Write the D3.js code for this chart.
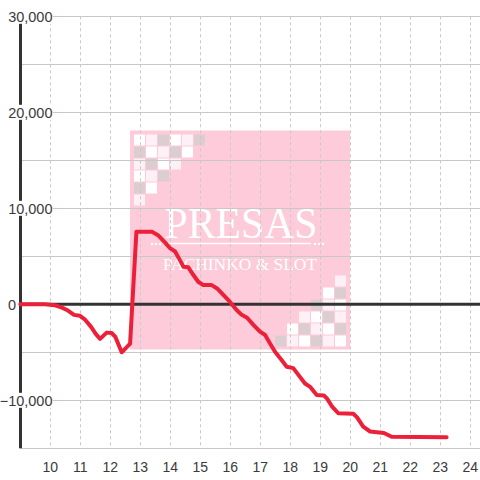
<!DOCTYPE html>
<html><head><meta charset="utf-8">
<script src="https://cdn.jsdelivr.net/npm/d3@7"></script>
<style>html,body{margin:0;padding:0;background:#fff;}svg{display:block;}</style>
</head><body>
<svg id="chart" width="480" height="480"></svg>
<script>
// Time of day (decimal hours) and cumulative balance
const hours = [9.0, 9.82, 10.16, 10.39, 10.59, 10.79, 10.99, 11.16, 11.36, 11.52, 11.66, 11.88, 12.05, 12.17, 12.38, 12.66,
  12.87, 13.39, 13.59, 13.82, 13.99, 14.16, 14.32, 14.44, 14.60, 14.77, 14.93, 15.10, 15.38, 15.56, 15.76, 15.99,
  16.21, 16.38, 16.56, 16.77, 16.99, 17.16, 17.32, 17.49, 17.71, 17.88, 18.10, 18.27, 18.49, 18.66, 18.88, 19.12,
  19.22, 19.38, 19.60, 20.10, 20.22, 20.43, 20.66, 21.12, 21.38, 23.21];
const balance = [0, 0, -100, -350, -650, -1100, -1200, -1600, -2350, -3100, -3600, -2950, -3000, -3400, -5000, -4100,
  7550, 7550, 7200, 6450, 5850, 5500, 4600, 3900, 3850, 3050, 2350, 2000, 2000, 1650, 1000, 250,
  -600, -1100, -1400, -2150, -2850, -3200, -4050, -4950, -5800, -6500, -6650, -7350, -8250, -8600, -9450, -9500,
  -9800, -10600, -11350, -11400, -11750, -12750, -13250, -13400, -13800, -13850];
const xTicks = [10, 11, 12, 13, 14, 15, 16, 17, 18, 19, 20, 21, 22, 23, 24];
const yLabelTicks = [30000, 20000, 10000, 0, -10000];
const yGridTicks = [30000, 25000, 20000, 15000, 10000, 5000, -5000, -10000, -15000];
const watermarkTitle = "PRESAS";
const watermarkSub = "PACHINKO & SLOT";
const checkTopLeft = ["WLGWLG", "GWLGW", "LGWL", "WLG", "GW", "L"];
const checkBottomRight = ["GLWGLW", "WGLWG", "LWGL", "GLW", "WG", "L"];

const W = 480, H = 480;
const svg = d3.select("#chart");
const x = d3.scaleLinear().domain([9, 24]).range([20.3, 470.3]);
const y = d3.scaleLinear().domain([-15000, 30000]).range([448.3, 16.3]);
const font = "'Liberation Sans', Arial, sans-serif";

// watermark
const wm = svg.append("g");
const wmW = 220, wmH = 219;
const wx0 = W / 2 - wmW / 2, wy0 = H / 2 - wmH / 2;
wm.append("rect").attr("x", wx0).attr("y", wy0).attr("width", wmW).attr("height", wmH).attr("fill", "#fdcbd9");
const cc = {W: "#ffffff", L: "#fdf0f7", G: "#dccdd1"};
const pitch = 12, sq = 11;
checkTopLeft.forEach((row, r) => {
  row.split("").forEach((c, i) => {
    wm.append("rect").attr("x", wx0 + 4 + i * pitch).attr("y", wy0 + 4 + r * pitch)
      .attr("width", sq).attr("height", sq).attr("fill", cc[c]);
  });
});
checkBottomRight.forEach((row, r) => {
  const n = row.length;
  row.split("").forEach((c, i) => {
    wm.append("rect").attr("x", wx0 + wmW - 4 - (n - i) * pitch + 1).attr("y", wy0 + wmH - 3 - (r + 1) * pitch + 1)
      .attr("width", sq).attr("height", sq).attr("fill", cc[c]);
  });
});
wm.append("text").attr("x", W / 2 + 1).attr("y", 238).attr("text-anchor", "middle")
  .attr("font-family", "'Liberation Serif', 'Times New Roman', serif").attr("font-size", 45)
  .attr("textLength", 153).attr("lengthAdjust", "spacingAndGlyphs")
  .attr("fill", "#fff").text(watermarkTitle);
wm.append("line").attr("x1", 163).attr("x2", 311).attr("y1", 243.5).attr("y2", 243.5)
  .attr("stroke", "#fff").attr("stroke-width", 1.5);
[152, 156, 160, 315, 319, 323].forEach(cx => {
  wm.append("circle").attr("cx", cx).attr("cy", 244).attr("r", 1.2).attr("fill", "#fff");
});
wm.append("text").attr("x", W / 2).attr("y", 270).attr("text-anchor", "middle")
  .attr("font-family", "'Liberation Serif', 'Times New Roman', serif").attr("font-size", 16)
  .attr("textLength", 154).attr("lengthAdjust", "spacingAndGlyphs")
  .attr("fill", "#fff").text(watermarkSub);

// grid
const grid = svg.append("g");
grid.selectAll("line.h").data(yGridTicks).join("line")
  .attr("x1", 20).attr("x2", W).attr("y1", d => Math.round(y(d)) + 0.5).attr("y2", d => Math.round(y(d)) + 0.5)
  .attr("stroke", "#c8c8c8").attr("stroke-width", 1);
grid.selectAll("line.v").data(xTicks).join("line")
  .attr("x1", d => Math.round(x(d)) + 0.5).attr("x2", d => Math.round(x(d)) + 0.5)
  .attr("y1", y(30000)).attr("y2", y(-15000))
  .attr("stroke", "#c8c8c8").attr("stroke-width", 1).attr("stroke-dasharray", "3,3");

// zero line
svg.append("line").attr("x1", 20).attr("x2", W).attr("y1", y(0)).attr("y2", y(0))
  .attr("stroke", "#333").attr("stroke-width", 3);
// left axis bar
svg.append("line").attr("x1", 20.5).attr("x2", 20.5).attr("y1", y(30000)).attr("y2", y(-15000))
  .attr("stroke", "#333").attr("stroke-width", 3);

// y labels with white backgrounds
const fmt = d3.format(",");
const yl = svg.append("g");
yLabelTicks.forEach(v => {
  if (v !== 0) {
    yl.append("rect").attr("x", 0).attr("y", y(v) - 7.5).attr("width", 53).attr("height", 15).attr("fill", "#fff");
  }
  yl.append("text").attr("x", v === 0 ? 16 : 52.5).attr("y", y(v)).attr("dy", "0.36em")
    .attr("text-anchor", "end").attr("font-family", font).attr("font-size", 14.5).attr("fill", "#3a3a3a")
    .text(fmt(v));
});

// x labels
svg.append("g").selectAll("text").data(xTicks).join("text")
  .attr("x", d => x(d)).attr("y", 467).attr("dy", "0.36em").attr("text-anchor", "middle")
  .attr("font-family", font).attr("font-size", 14).attr("fill", "#3a3a3a").text(d => d);

// data line
const pts = hours.map((h, i) => [h, balance[i]]);
svg.append("path").datum(pts)
  .attr("d", d3.line().x(d => x(d[0])).y(d => y(d[1])))
  .attr("fill", "none").attr("stroke", "#ec2139").attr("stroke-width", 4)
  .attr("stroke-linejoin", "round").attr("stroke-linecap", "round");
</script>
</body></html>
